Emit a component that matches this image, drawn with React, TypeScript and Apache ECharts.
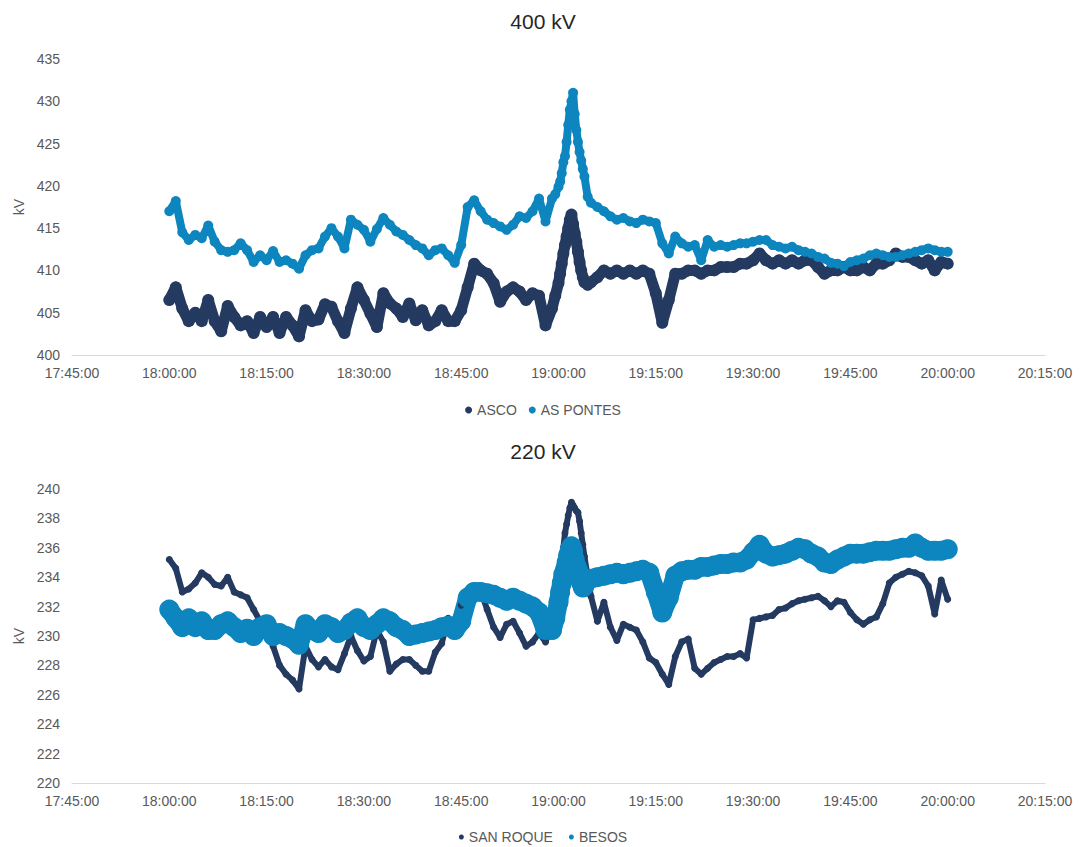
import { useEffect, useRef } from "react";
import * as echarts from "echarts";

// Sample times, minutes after 18:00 (denser around the 19:01 transient)
const SAMPLE_MINUTES = [
  0, 1, 2, 3, 4, 5, 6, 7, 8, 9,
  10, 11, 12, 13, 14, 15, 16, 17, 18, 19,
  20, 21, 22, 23, 24, 25, 26, 27, 28, 29,
  30, 31, 32, 33, 34, 35, 36, 37, 38, 39,
  40, 41, 42, 43, 44, 45, 46, 47, 48, 49,
  50, 51, 52, 53, 54, 55, 56, 57, 58,
  59, 59.5,
  60, 60.25, 60.5, 60.75, 61, 61.25, 61.5, 61.75, 62, 62.25, 62.5, 62.75, 63, 63.25, 63.5, 63.75, 64,
  64.5,
  65, 66, 67, 68, 69,
  70, 71, 72, 73, 74, 75, 76, 77, 78, 79,
  80, 81, 82, 83, 84, 85, 86, 87, 88, 89,
  90, 91, 92, 93, 94, 95, 96, 97, 98, 99,
  100, 101, 102, 103, 104, 105, 106, 107, 108, 109,
  110, 111, 112, 113, 114, 115, 116, 117, 118, 119, 120,
];

// 400 kV nodes (kV)
const ASCO = [
  406.5, 408, 405.5, 404, 405, 404, 406.5, 404, 402.8, 405.8,
  404.5, 403.5, 404, 402.6, 404.5, 403.3, 404.5, 402.6, 404.5, 403.5,
  402.2, 405.3, 404, 404.2, 406, 405.7, 404, 402.6, 405.5, 408,
  406.5, 404.9, 403.3, 407.3, 406.1, 405.5, 404.5, 406.1, 404.1, 405.3,
  403.5, 404, 405.3, 404, 404, 405.3, 408, 410.8, 410, 409.6,
  408.5, 406.3, 407.5, 408, 407.5, 406.5, 407.3, 407, 403.5,
  405.5, 407,
  408.5, 409.6, 410.8, 412, 413, 414, 415, 416, 416.6, 415.5, 414.4, 413.4, 412.2, 411, 410, 409.2, 408.6,
  408.3,
  408.6, 409.2, 410, 409.6, 410,
  409.6, 410, 409.6, 410, 409.6, 407.3, 403.8, 406.5, 409.6, 409.6,
  410, 410, 409.6, 410, 410, 410.4, 410.4, 410.4, 410.8, 410.8,
  411.2, 412, 411.2, 410.8, 411.2, 410.8, 411.2, 410.8, 411.2, 411.2,
  410.4, 409.6, 410, 410, 410.4, 410, 410, 410.4, 410, 410.8,
  410.8, 411.2, 412, 411.6, 411.6, 411.2, 410.8, 411.2, 410, 411, 410.8,
];

const AS_PONTES = [
  417, 418.2, 414.5, 413.6, 414.2, 413.8, 415.3, 413.4, 412.4, 412.2,
  412.4, 413.2, 412.4, 411, 411.8, 411.2, 412.3, 411, 411.2, 410.8,
  410.2, 411.8, 412.4, 412.6, 414, 415, 414, 412.6, 416, 415.4,
  414.8, 413.4, 414.9, 416.2, 415.4, 414.6, 414.2, 413.6, 413, 412.6,
  411.8, 412.4, 412.6, 411.8, 410.9, 413, 417.5, 418.3, 417, 416,
  415.6, 415.2, 414.8, 415.4, 416.4, 416.2, 417, 418.5, 415.8,
  418.5, 419,
  419.9, 420.5, 421.5, 422.8, 423.5, 425.2, 427.2, 429, 430, 431, 428.5, 426.6, 425.2, 424, 423, 422, 421.1,
  418.7,
  418, 417.5, 417, 416.4, 416,
  416.2, 415.8, 415.6, 416, 415.8, 415.6, 413.2, 412, 414, 413.2,
  412.8, 413, 411.2, 413.6, 412.8, 413, 412.8, 413, 413.2, 413.2,
  413.4, 413.6, 413.6, 413, 412.8, 412.6, 412.8, 412.4, 412.2, 412,
  411.6, 411.4, 410.9, 410.8, 410.5, 411, 411.2, 411.4, 411.8, 412,
  411.8, 411.6, 411.6, 411.8, 412, 412.2, 412.4, 412.6, 412.4, 412.2, 412.2,
];

// 220 kV nodes (kV)
const SAN_ROQUE = [
  235.2, 234.6, 233, 233.2, 233.6, 234.3, 234, 233.5, 233.4, 234,
  233, 232.8, 232.6, 231.8, 231, 230.6, 229.3, 228, 227.4, 227,
  226.4, 229.3, 228.4, 227.9, 228.4, 227.9, 227.7, 228.8, 230, 229,
  228.3, 228.6, 230.4, 229.6, 227.6, 228.1, 228.4, 228.4, 228, 227.6,
  227.6, 228.9, 229.5, 231.2, 230.9, 232.1, 232.8, 233.3, 233.1, 231.8,
  230.6, 229.9, 230.8, 231, 230.2, 229.3, 229.6, 230.2, 229.6,
  230.8, 231.6,
  232.8, 233.6, 235, 236, 237, 237.6, 238.2, 238.7, 239.1, 238.9, 238.7, 238.5, 238.4, 237.8, 237, 236.2, 235.4,
  234,
  232.7, 231, 232.3, 230.6, 229.7,
  230.8, 230.6, 230.4, 229.6, 228.5, 228.2, 227.4, 226.7, 228.6, 229.6,
  229.8, 227.8, 227.4, 227.8, 228.2, 228.4, 228.6, 228.6, 228.8, 228.5,
  231.1, 231.2, 231.3, 231.4, 231.8, 231.9, 232.2, 232.4, 232.5, 232.6,
  232.7, 232.4, 232, 232.4, 232.3, 231.6, 231.1, 230.8, 231.1, 231.3,
  232.2, 233.6, 234, 234.2, 234.4, 234.3, 234.1, 233.4, 231.5, 233.8, 232.5,
];

const BESOS = [
  231.8, 231.2, 230.6, 231.2, 230.6, 231, 230.4, 230.4, 230.8, 231,
  230.6, 230.2, 230.5, 230, 230.6, 230.8, 230, 230.2, 230, 229.8,
  229.4, 230.8, 230.4, 230.2, 230.8, 230.6, 230.2, 230.4, 230.9, 231.2,
  230.6, 230.4, 230.8, 231.2, 231, 230.6, 230.4, 230, 230.1, 230.2,
  230.3, 230.4, 230.6, 230.7, 230.4, 231, 232.6, 233, 233, 232.9,
  232.8, 232.6, 232.4, 232.6, 232.4, 232.2, 232, 231.6, 230.4,
  230.4, 231.2,
  232.3, 233, 233.6, 234.2, 234.5, 235, 235.5, 235.9, 236.1, 235.8, 235.2, 234.8, 234.5, 234, 233.6, 233.3, 233.4,
  233.8,
  233.9, 234, 234.1, 234.2, 234.3,
  234.2, 234.3, 234.4, 234.5, 234.3, 233, 231.6, 232.6, 234.1, 234.4,
  234.5, 234.5, 234.7, 234.7, 234.8, 234.9, 234.9, 235, 235, 235.2,
  235.7, 236.2, 235.6, 235.4, 235.5, 235.6, 235.8, 236, 235.9, 235.6,
  235.4, 235, 234.9, 235.2, 235.4, 235.6, 235.6, 235.6, 235.7, 235.8,
  235.8, 235.8, 235.9, 236, 236, 236.3, 236, 235.8, 235.8, 235.8, 235.9,
];

const START_MINUTE = 18 * 60; // 18:00
const AXIS_MIN = 17 * 60 + 45; // 17:45
const AXIS_MAX = 20 * 60 + 15; // 20:15

const DARK = "#243a60";
const LIGHT = "#0d85bf";
const FONT = "'Liberation Sans', Arial, sans-serif";
const LABEL_COLOR = "#595959";

const toPairs = (values: number[]) =>
  values.map((v, i) => [START_MINUTE + SAMPLE_MINUTES[i], v]);

const clock = (minutes: number) => {
  const h = Math.floor(minutes / 60);
  const m = Math.round(minutes % 60);
  return `${h}:${String(m).padStart(2, "0")}:00`;
};

const timeAxis = (gridIndex: number) => ({
  type: "value" as const,
  gridIndex,
  min: AXIS_MIN,
  max: AXIS_MAX,
  interval: 15,
  axisLine: { show: true, lineStyle: { color: "#d9d9d9", width: 1 } },
  axisTick: { show: false },
  splitLine: { show: false },
  axisLabel: {
    formatter: (v: number) => clock(v),
    color: LABEL_COLOR,
    fontFamily: FONT,
    fontSize: 14,
    margin: 11,
  },
});

const kvAxis = (gridIndex: number, min: number, max: number, interval: number) => ({
  type: "value" as const,
  gridIndex,
  min,
  max,
  interval,
  name: "kV",
  nameLocation: "middle" as const,
  nameGap: 44,
  nameTextStyle: { color: LABEL_COLOR, fontFamily: FONT, fontSize: 14 },
  axisLine: { show: false },
  axisTick: { show: false },
  splitLine: { show: false },
  axisLabel: { color: LABEL_COLOR, fontFamily: FONT, fontSize: 14, margin: 12 },
});

// Dotted trace: round markers joined by a band of the same colour, so the
// dense readings read as a continuous string of dots.
const trace = (
  name: string,
  values: number[],
  axis: number,
  color: string,
  dot: number,
  band: number
) => ({
  name,
  type: "line" as const,
  xAxisIndex: axis,
  yAxisIndex: axis,
  symbol: "circle",
  symbolSize: dot,
  showSymbol: true,
  itemStyle: { color, borderWidth: 0 },
  lineStyle: { color, width: band, cap: "round" as const, join: "round" as const },
  data: toPairs(values),
});

export default function App() {
  const ref = useRef<HTMLDivElement>(null);

  useEffect(() => {
    if (!ref.current) return;
    const chart = echarts.init(ref.current, undefined, { renderer: "svg" });
    chart.setOption({
      animation: false,
      backgroundColor: "#ffffff",
      title: [
        {
          text: "400 kV",
          left: "center",
          top: 6,
          textStyle: { fontFamily: FONT, fontSize: 21, fontWeight: "normal", color: "#262626" },
        },
        {
          text: "220 kV",
          left: "center",
          top: 436,
          textStyle: { fontFamily: FONT, fontSize: 21, fontWeight: "normal", color: "#262626" },
        },
      ],
      legend: [
        {
          data: ["ASCO", "AS PONTES"],
          top: 398,
          left: "center",
          icon: "circle",
          itemWidth: 7,
          itemHeight: 7,
          itemGap: 12,
          textStyle: { fontFamily: FONT, fontSize: 14, color: LABEL_COLOR },
        },
        {
          data: ["SAN ROQUE", "BESOS"],
          top: 825,
          left: "center",
          icon: "circle",
          itemWidth: 5,
          itemHeight: 5,
          itemGap: 16,
          textStyle: { fontFamily: FONT, fontSize: 14, color: LABEL_COLOR },
        },
      ],
      grid: [
        { left: 72, right: 41, top: 59, height: 296 },
        { left: 72, right: 41, top: 489, height: 294 },
      ],
      xAxis: [timeAxis(0), timeAxis(1)],
      yAxis: [kvAxis(0, 400, 435, 5), kvAxis(1, 220, 240, 2)],
      series: [
        trace("ASCO", ASCO, 0, DARK, 12, 11),
        trace("AS PONTES", AS_PONTES, 0, LIGHT, 10, 8),
        trace("SAN ROQUE", SAN_ROQUE, 1, DARK, 7, 6),
        trace("BESOS", BESOS, 1, LIGHT, 20, 19),
      ],
    });
    return () => chart.dispose();
  }, []);

  return (
    <div
      ref={ref}
      style={{ position: "fixed", left: 0, top: 0, width: 1086, height: 847, background: "#fff" }}
    />
  );
}
